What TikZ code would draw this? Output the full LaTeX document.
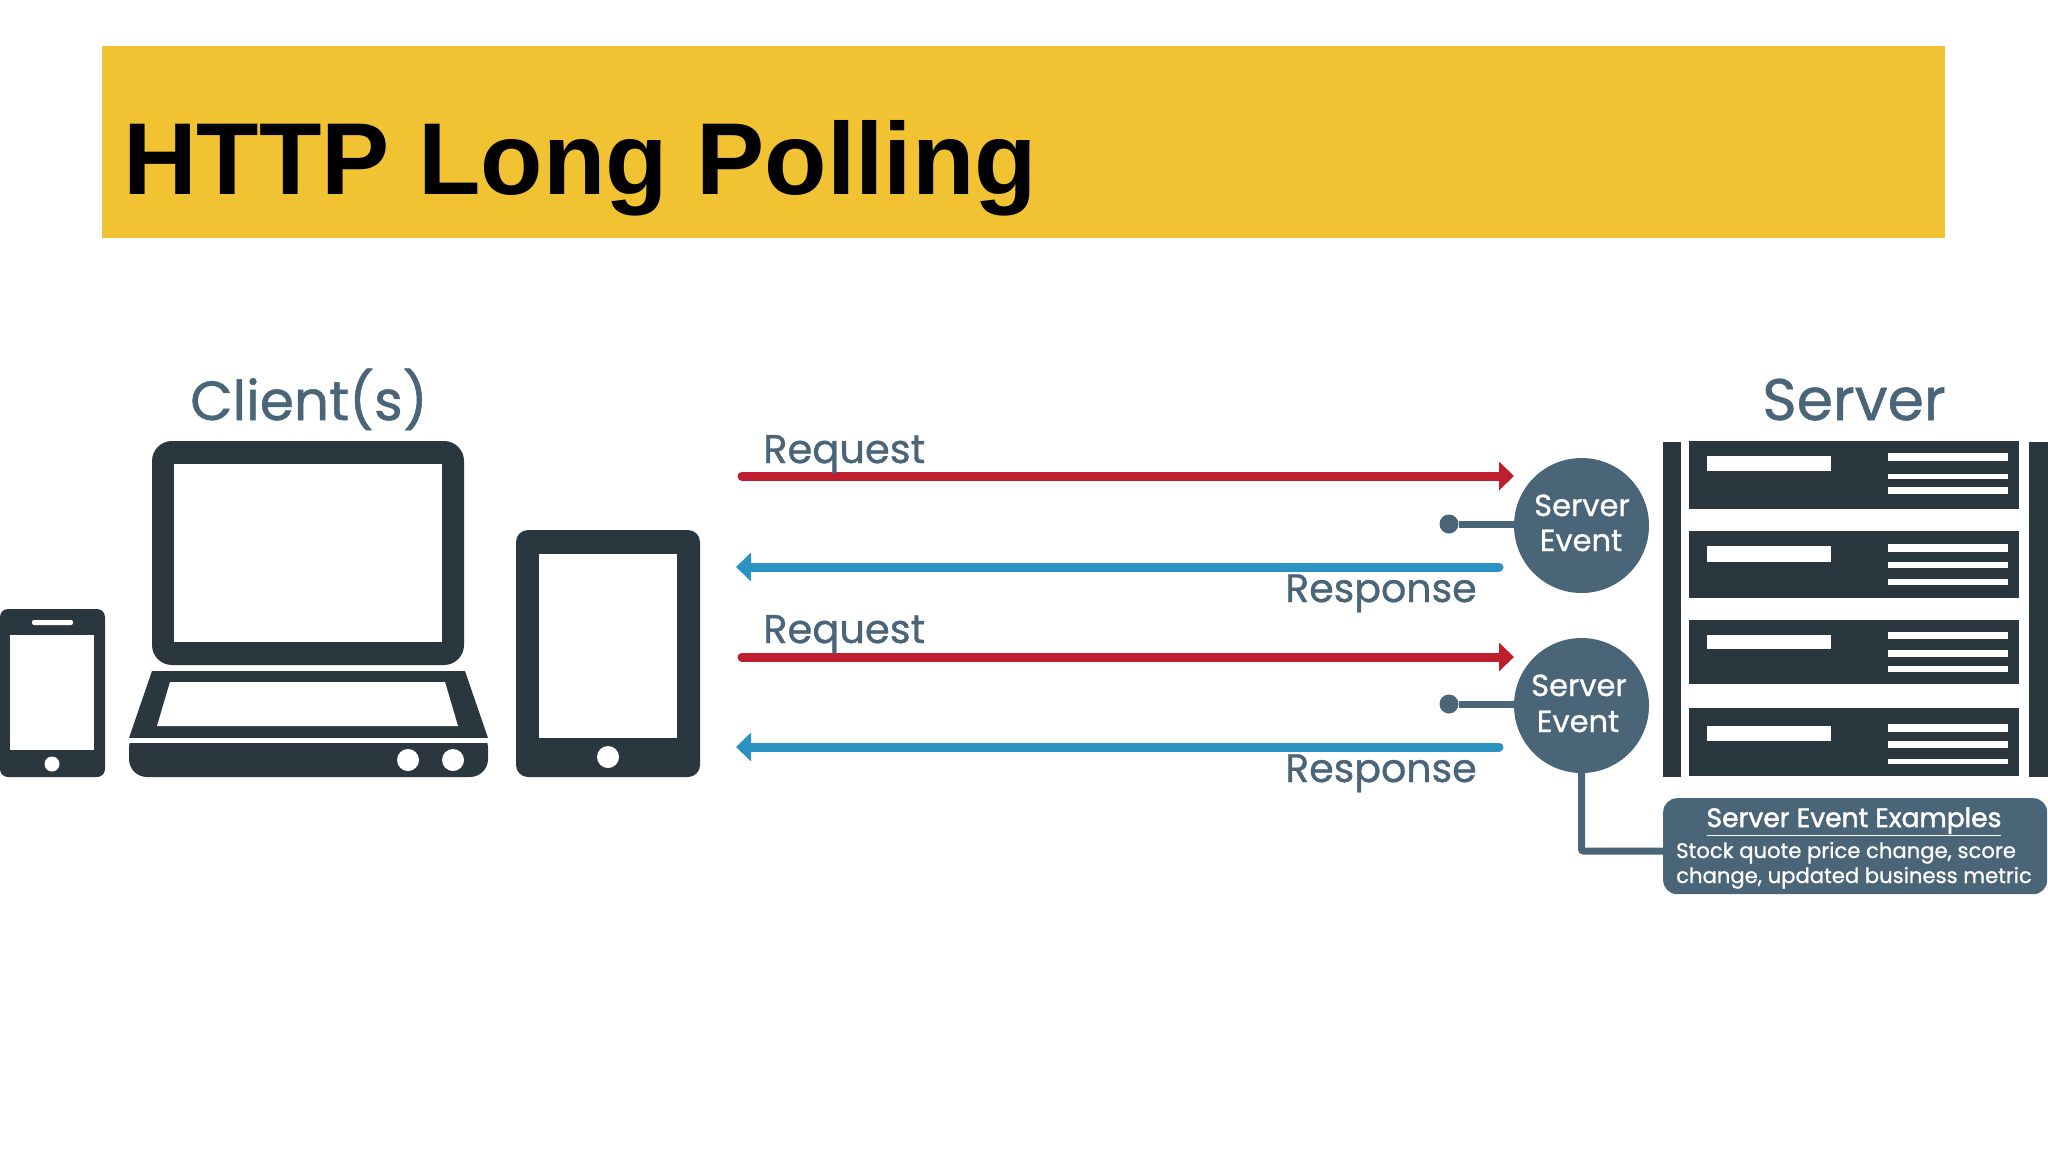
\documentclass[tikz,border=0pt]{standalone}
\usepackage{fontspec}
\setmainfont{Liberation Sans}
\newfontfamily\labelfont[RawFeature={embolden=0.9}]{Poppins}
\newfontfamily\strongfont[RawFeature={embolden=1.8}]{Poppins}
\usetikzlibrary{arrows.meta}
\definecolor{bannercol}{HTML}{F1C232}
\definecolor{darkcol}{HTML}{2B373F}
\definecolor{slatecol}{HTML}{4A6478}
\definecolor{redcol}{HTML}{BE1E2D}
\definecolor{bluecol}{HTML}{2B93C1}
\tikzset{
    sized/.style={font=\labelfont\fontsize{#1}{#1}\selectfont},
    caption/.style={sized=#1, text=slatecol, inner sep=0pt, anchor=base},
    whitetext/.style={sized=#1, text=white, inner sep=0pt, anchor=base},
    request/.style={draw=redcol, line width=9pt, line cap=round, -{Triangle[width=28pt,length=15pt]}},
    response/.style={draw=bluecol, line width=9pt, line cap=round, -{Triangle[width=28pt,length=15pt]}},
    link/.style={draw=slatecol, line width=7pt},
    eventnode/.style={circle, fill=slatecol, minimum size=135pt, inner sep=0pt},
    dotnode/.style={circle, fill=slatecol, minimum size=19pt, inner sep=0pt}
}

\begin{document}
\begin{tikzpicture}[x=1pt, y=-1pt]
    \useasboundingbox (0, 0) rectangle (2048, 1152);
    % 1. banner
    \fill[bannercol] (102, 46) rectangle (1945, 238);
    \node[anchor=base west, inner sep=0pt, text=black, font=\bfseries\fontsize{102.2}{102.2}\selectfont] (title) at (123, 194) {HTTP Long Polling};
    % 2. phone
    \fill[darkcol, rounded corners=8pt] (0, 609) rectangle (105, 777);
    \fill[white] (10, 635) rectangle (94, 750);
    \fill[white, rounded corners=2pt] (32, 620) rectangle (73, 625);
    \fill[white] (52, 764) circle (7.5);
    % 3. laptop
    \fill[darkcol, rounded corners=20pt] (152, 441) rectangle (464, 665);
    \fill[white] (174, 464) rectangle (442, 642);
    \fill[darkcol] (152, 671) -- (465, 671) -- (488, 738) -- (129, 738) -- cycle;
    \fill[white] (170, 682) -- (445, 682) -- (458, 726) -- (157, 726) -- cycle;
    \fill[darkcol, rounded corners=18pt] (129, 730) -- (129, 777) -- (488, 777) -- (488, 730) -- cycle;
    \fill[white] (125, 738) rectangle (492, 743);
    \fill[white] (408, 760) circle (11);
    \fill[white] (453, 760) circle (11);
    % 4. tablet
    \fill[darkcol, rounded corners=12pt] (516, 530) rectangle (700, 777);
    \fill[white] (539, 554) rectangle (677, 738);
    \fill[white] (608, 757) circle (11);
    % 5. server rack
    \fill[darkcol] (1663, 442) rectangle (1681, 777);
    \fill[darkcol] (2029, 442) rectangle (2048, 777);
    \foreach \ya/\yb/\ba/\bb/\la/\lb/\lc/\ld/\le/\lf in {
        441/509/456/471/453/461/474/479/487/494,
        531/598/546/562/544/552/562/568/579/585,
        620/684/635/649/632/639/650/657/666/672,
        708/776/726/741/724/732/741/748/759/764} {
        \fill[darkcol] (1689, \ya) rectangle (2019, \yb);
        \fill[white] (1707, \ba) rectangle (1831, \bb);
        \fill[white] (1888, \la) rectangle (2008, \lb);
        \fill[white] (1888, \lc) rectangle (2008, \ld);
        \fill[white] (1888, \le) rectangle (2008, \lf);
    }
    % 6. headings
    \node[caption=55] (clients) at (309, 420) {Client(s)};
    \node[caption=58.5] (server) at (1854, 420) {Server};
    % 7. server events
    \node[eventnode] (event1) at (1581.5, 525.5) {};
    \node[eventnode] (event2) at (1581.5, 705.5) {};
    \node[whitetext=30.5] (event1a) at (1582, 516) {Server};
    \node[whitetext=30.5] (event1b) at (1581, 551) {Event};
    \node[whitetext=30.5] (event2a) at (1579, 696) {Server};
    \node[whitetext=30.5] (event2b) at (1578, 732) {Event};
    \node[dotnode] (dot1) at (1449, 524) {};
    \node[dotnode] (dot2) at (1449, 704) {};
    \draw[link] (dot1) -- (dot1 -| event1.west);
    \draw[link] (dot2) -- (dot2 -| event2.west);
    % 8. examples box
    \node[anchor=north west, fill=slatecol, rounded corners=14pt, minimum width=384pt, minimum height=96pt, inner sep=0pt] (examples) at (1663, 798) {};
    \node[whitetext=26.5, font=\strongfont\fontsize{26.5}{26.5}\selectfont] (examplestitle) at (1854, 827) {\underline{Server Event Examples}};
    \node[whitetext=21.15, anchor=base west] (examplesa) at (1676, 858) {Stock quote price change, score};
    \node[whitetext=21.15, anchor=base west] (examplesb) at (1676, 883) {change, updated business metric};
    \draw[link, rounded corners=2pt] (event2.south) -- (1581.5, 851) -- (examples.west |- 0, 851);
    % 9. arrows
    \coordinate (reqa1) at (742, 476);
    \coordinate (reqb1) at (1514, 476);
    \coordinate (resa1) at (1499, 567);
    \coordinate (resb1) at (736, 567);
    \coordinate (reqa2) at (742, 657);
    \coordinate (reqb2) at (1514, 657);
    \coordinate (resa2) at (1499, 747);
    \coordinate (resb2) at (736, 747);
    \draw[request] (reqa1) -- (reqb1);
    \draw[response] (resa1) -- (resb1);
    \draw[request] (reqa2) -- (reqb2);
    \draw[response] (resa2) -- (resb2);
    \node[caption=40, anchor=base west] (req1) at (763, 463) {Request};
    \node[caption=39.5, anchor=base west] (res1) at (1285, 602) {Response};
    \node[caption=40, anchor=base west] (req2) at (763, 643) {Request};
    \node[caption=39.5, anchor=base west] (res2) at (1285, 782) {Response};
\end{tikzpicture}
\end{document}
